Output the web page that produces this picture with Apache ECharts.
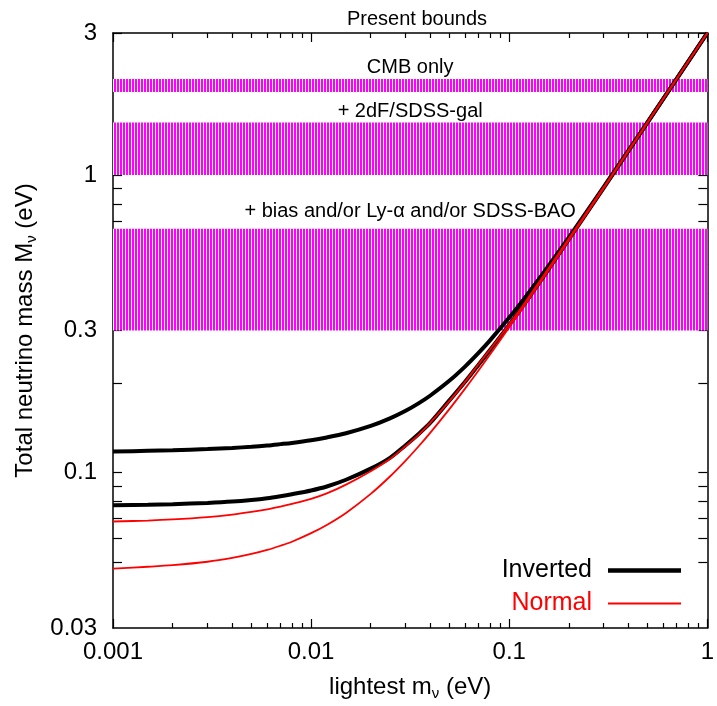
<!DOCTYPE html>
<html><head><meta charset="utf-8">
<script src="https://cdn.jsdelivr.net/npm/echarts@6/dist/echarts.min.js"></script>
<style>html,body{margin:0;padding:0;background:#fff}#c{width:717px;height:706px}</style>
</head><body><div id="c"></div>
<script>
// lightest neutrino mass (eV)
const mLight = [0.001,0.0015,0.002,0.003,0.004,0.005,0.006,0.007,0.008,0.01,0.012,0.015,0.02,0.025,0.03,0.035,0.04,0.05,0.06,0.07,0.08,0.1,0.12,0.15,0.2,0.3,0.5,0.7,1];
// total mass (eV)
const invertedUpper = [0.1176,0.1182,0.1187,0.1198,0.1209,0.1220,0.1232,0.1245,0.1257,0.1283,0.1311,0.1354,0.1433,0.1519,0.1611,0.171,0.1814,0.2036,0.2273,0.2522,0.278,0.3315,0.3868,0.4719,0.6166,0.9112,1.5068,2.1049,3.0034];
const invertedLower = [0.0776,0.0779,0.0782,0.079,0.0798,0.0808,0.0819,0.0832,0.0845,0.087,0.0897,0.0945,0.103,0.112,0.1235,0.135,0.147,0.175,0.202,0.230,0.258,0.313,0.370,0.458,0.607,0.905,1.503,2.102,3.0];
const normalUpper = [0.0684,0.0689,0.0695,0.0708,0.0722,0.0737,0.0752,0.0768,0.0784,0.0815,0.085,0.091,0.101,0.111,0.1225,0.134,0.147,0.174,0.202,0.231,0.259,0.315,0.372,0.462,0.612,0.910,1.51,2.105,3.0];
const normalLower = [0.0475,0.0482,0.0488,0.0501,0.0516,0.0532,0.0549,0.0567,0.0585,0.0625,0.0666,0.0731,0.0847,0.0969,0.1096,0.1227,0.1361,0.1636,0.1917,0.2202,0.249,0.3074,0.3662,0.455,0.6038,0.9025,1.5015,2.1011,3.0];
// cosmological bounds
const bandNames = ['CMB only','+ 2dF/SDSS-gal','+ bias and/or Ly-α and/or SDSS-BAO'];
const bandLow = [1.9,1.0,0.3];
const bandHigh = [2.1,1.5,0.66];
// ticks
const xLabelTicks = [0.001,0.01,0.1,1];
const xMinorTicks = [0.002,0.003,0.004,0.005,0.006,0.007,0.008,0.009,0.02,0.03,0.04,0.05,0.06,0.07,0.08,0.09,0.2,0.3,0.4,0.5,0.6,0.7,0.8,0.9];
const yLabelTicks = [0.03,0.1,0.3,1,3];
const yTicks = [0.05,0.06,0.07,0.08,0.09,0.1,0.2,0.3,0.4,0.5,0.6,0.7,0.8,0.9,1,2,3];

const pc = document.createElement('canvas'); pc.width = 3; pc.height = 3;
const pctx = pc.getContext('2d');
pctx.fillStyle = '#ff00ff'; pctx.fillRect(0,0,2,3);
pctx.fillStyle = '#ffffff'; pctx.fillRect(2,0,1,3);

const font = 'Liberation Sans, Arial, sans-serif';
const fmt = v => String(+(+v).toPrecision(3));
const pairs = arr => mLight.map((x,i)=>[x,arr[i]]);
const labelDist = [2,1,7];

function xAx(pos, major, showLabel, showLine){
  return {type:'log', logBase:10, min:0.001, max:1, gridIndex:0, position:pos,
    axisLine:{show:showLine, onZero:false, lineStyle:{color:'#000', width:1.5}},
    axisTick:{show:true, inside:true, length: major?9:5, customValues: major?xLabelTicks:xMinorTicks, lineStyle:{color:'#000', width:1.2}},
    axisLabel:{show:showLabel, customValues:xLabelTicks, formatter:fmt, fontSize:24, color:'#000', fontFamily:font, margin:12},
    splitLine:{show:false}, minorTick:{show:false}};
}
function yAx(pos, showLabel){
  return {type:'log', logBase:10, min:0.03, max:3, gridIndex:0, position:pos,
    axisLine:{show:true, onZero:false, lineStyle:{color:'#000', width:1.5}},
    axisTick:{show:true, inside:true, length:9, customValues:yTicks, lineStyle:{color:'#000', width:1.2}},
    axisLabel:{show:showLabel, customValues:yLabelTicks, formatter:fmt, fontSize:24, color:'#000', fontFamily:font, margin:16},
    splitLine:{show:false}, minorTick:{show:false}};
}
const subRich = {sub:{fontSize:15, fontFamily:font, color:'#000', padding:[12,0,0,0]}};
const xa0 = xAx('bottom', true, true, true);
xa0.name = 'lightest m{sub|ν} (eV)';
xa0.nameLocation = 'middle'; xa0.nameGap = 46;
xa0.nameTextStyle = {fontSize:24, color:'#000', fontFamily:font, rich:subRich};
const ya0 = yAx('left', true);
ya0.name = 'Total neutrino mass M{sub|ν} (eV)';
ya0.nameLocation = 'middle'; ya0.nameGap = 74; ya0.nameRotate = 90;
ya0.nameTextStyle = {fontSize:24, color:'#000', fontFamily:font, rich:subRich};

const lineSeries = (name, arr, color, width) => ({type:'line', name, data:pairs(arr), smooth:0.3, symbol:'none', showSymbol:false, clip:true,
  lineStyle:{color, width}, itemStyle:{color}});

const chart = echarts.init(document.getElementById('c'), null, {renderer:'canvas'});
chart.setOption({
  backgroundColor:'#fff',
  animation:false,
  title:{text:'Present bounds', left:412, textAlign:'center', top:4, textStyle:{fontSize:20, fontWeight:'normal', color:'#000', fontFamily:font}},
  grid:{left:113, right:7, top:33, bottom:78, containLabel:false},
  legend:{orient:'vertical', align:'right', right:31, top:553, itemWidth:73, itemHeight:14, itemGap:8,
    textStyle:{fontSize:25, fontFamily:font, padding:[0,11,0,0]},
    data:[{name:'Inverted', icon:'path://M0,0h73v4.5h-73z', textStyle:{color:'#000'}},
          {name:'Normal', icon:'path://M0,0h73v2h-73z', textStyle:{color:'#ff0000'}}]},
  xAxis:[xa0, xAx('bottom', false, false, false), xAx('top', true, false, true), xAx('top', false, false, false)],
  yAxis:[ya0, yAx('right', false)],
  series:[
    {type:'line', name:'bands', data:[], silent:true,
      markArea:{silent:true,
        itemStyle:{color:{image:pc, repeat:'repeat'}, opacity:1, borderWidth:0},
        label:{show:true, position:'top', color:'#000', fontSize:20, fontFamily:font},
        data: bandNames.map((n,i)=>[{name:n, yAxis:bandLow[i], label:{distance:labelDist[i]}},{yAxis:bandHigh[i]}])}},
    lineSeries('Inverted', invertedUpper, '#000', 4),
    lineSeries('Inverted', invertedLower, '#000', 4),
    lineSeries('Normal', normalUpper, '#ff0000', 1.8),
    lineSeries('Normal', normalLower, '#ff0000', 1.8)
  ]
});
</script></body></html>
